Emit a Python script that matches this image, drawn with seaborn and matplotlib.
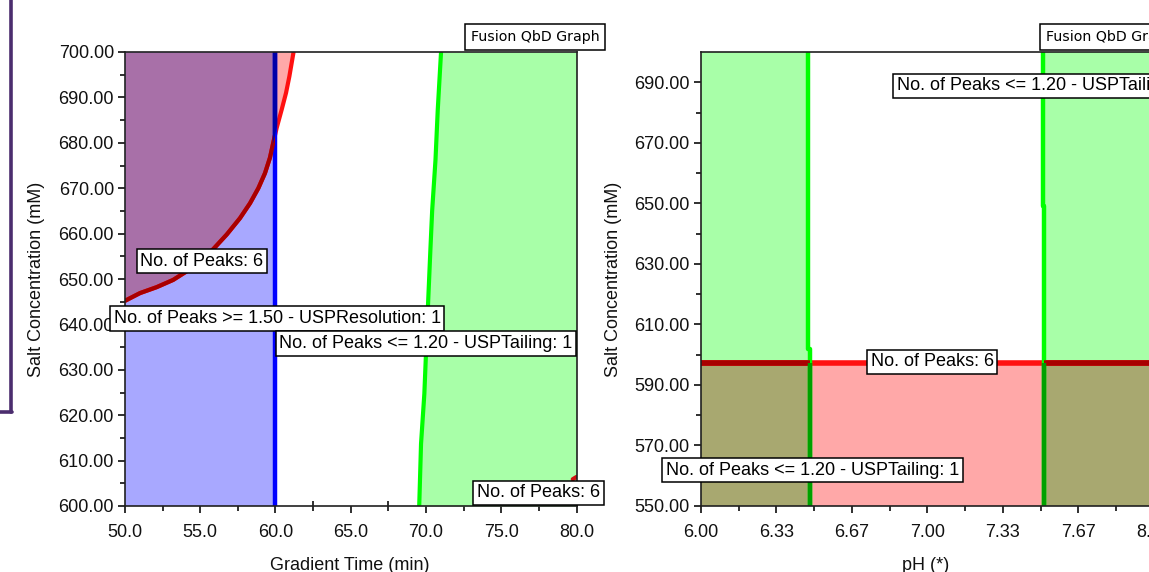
import numpy as np
import matplotlib
matplotlib.use("Agg")
import matplotlib.pyplot as plt
from matplotlib.lines import Line2D
import seaborn as sns
import pandas as pd

# ---------------- data ----------------
# Left panel: Gradient Time (min) vs Salt Concentration (mM)
res_x = np.array([50.0, 51.0, 52.1, 53.2, 54.1, 54.98, 55.87, 56.76, 57.64, 58.31,
                  58.86, 59.30, 59.63, 59.85, 60.08, 60.41, 60.70, 60.92, 61.2])
res_y = np.array([645.2, 646.9, 648.2, 649.8, 651.7, 653.9, 656.6, 659.8, 663.4, 666.7,
                  670.0, 673.3, 676.7, 680.0, 683.3, 687.3, 691.0, 694.6, 700.0])
tail_x_left = 60.0
grn_x = np.array([69.55, 69.67, 69.89, 70.07, 70.29, 70.41, 70.63, 70.78, 71.0])
grn_y = np.array([600.0, 613.7, 624.7, 639.4, 656.3, 665.1, 676.2, 687.2, 700.0])
peak2_x = np.array([79.75, 80.0])
peak2_y = np.array([605.9, 606.4])

# Right panel: pH vs Salt Concentration (mM)
gl_x = np.array([6.482, 6.482, 6.471, 6.471])
gl_y = np.array([550.0, 602.0, 602.0, 700.0])
gr_x = np.array([7.513, 7.513, 7.508, 7.508])
gr_y = np.array([550.0, 649.0, 649.0, 700.0])
peaks_level = 597.4

left_xlim = (50.0, 80.0)
left_ylim = (600.0, 700.0)
right_xlim = (6.0, 8.0)
right_ylim = (550.0, 700.0)

left_xticks = [50.0, 55.0, 60.0, 65.0, 70.0, 75.0, 80.0]
left_yticks = [600, 610, 620, 630, 640, 650, 660, 670, 680, 690, 700]
right_xticks = [6.0, 6 + 1 / 3, 6 + 2 / 3, 7.0, 7 + 1 / 3, 7 + 2 / 3, 8.0]
right_yticks = [550, 570, 590, 610, 630, 650, 670, 690]

# ---------------- style ----------------
sns.set_theme(style="ticks")
plt.rcParams["font.family"] = ["Liberation Sans", "DejaVu Sans"]
FS = 13

BLUE_F = "#a8a8ff"
RED_F = "#ffa8a8"
GREEN_F = "#a8ffa8"
PURPLE_F = "#a870a8"
OLIVE_F = "#a8a870"

fig = plt.figure(figsize=(11.49, 5.72), dpi=100)
axL = fig.add_axes([125 / 1149, 66 / 572, 451.5 / 1149, 454 / 572])
axR = fig.add_axes([700.8 / 1149, 66 / 572, 453.2 / 1149, 454 / 572])


def style_axis(ax):
    for s in ax.spines.values():
        s.set_color("#202020")
        s.set_linewidth(1.2)
        s.set_zorder(10)
    ax.tick_params(which="major", direction="out", length=5, width=1.3,
                   color="#202020", labelsize=FS, pad=3, labelcolor="#111111")
    ax.tick_params(which="minor", direction="inout", length=7, width=1.3, color="#202020")
    ax.tick_params(axis="x", which="major", pad=8)
    ax.grid(False)
    ax.set_facecolor("white")


def clipped_line(ax, x, y, color, lw, clip_coll):
    ln, = ax.plot(x, y, color=color, lw=lw, solid_capstyle="butt", zorder=4)
    ln.set_clip_path(clip_coll.get_paths()[0], ax.transData)
    return ln


def box(ax, x, y, s, fs=FS, pad=0.2, family=None):
    kw = {}
    if family:
        kw["family"] = family
    ax.text(x, y, s, fontsize=fs, ha="left", va="center", zorder=20, clip_on=False,
            color="#000000",
            bbox=dict(boxstyle=f"square,pad={pad}", fc="white", ec="black", lw=1.1), **kw)


# ---------------- left panel ----------------
ax = axL
red_coll = ax.fill_between(res_x, res_y, left_ylim[1], color=RED_F, lw=0, zorder=1)
blue_coll = ax.fill_betweenx(list(left_ylim), left_xlim[0], tail_x_left, color=BLUE_F, lw=0, zorder=1)
m = res_x < tail_x_left
ox = np.append(res_x[m], tail_x_left)
oy = np.append(res_y[m], np.interp(tail_x_left, res_x, res_y))
ax.fill_between(ox, oy, left_ylim[1], color=PURPLE_F, lw=0, zorder=2)
green_coll = ax.fill_betweenx(grn_y, grn_x, left_xlim[1], color=GREEN_F, lw=0, zorder=1)

dfL = pd.DataFrame({"x": res_x, "y": res_y})
sns.lineplot(data=dfL, x="x", y="y", sort=False, color="#ff1010", lw=3.0, ax=ax, zorder=3)
clipped_line(ax, res_x, res_y, "#a80000", 3.0, blue_coll)
ax.plot([tail_x_left, tail_x_left], list(left_ylim), color="#0000ff", lw=3.2, zorder=3)
clipped_line(ax, [tail_x_left, tail_x_left], list(left_ylim), "#0000a8", 3.2, red_coll)
sns.lineplot(x=grn_x, y=grn_y, sort=False, color="#00ff00", lw=3.0, ax=ax, zorder=3)
ax.plot(peak2_x, peak2_y, color="#d01010", lw=3, zorder=3)

ax.set_xlim(*left_xlim)
ax.set_ylim(*left_ylim)
ax.set_xticks(left_xticks)
ax.set_xticklabels([f"{v:.1f}" for v in left_xticks])
ax.set_xticks(np.arange(52.5, 80, 5), minor=True)
ax.set_yticks(left_yticks)
ax.set_yticklabels([f"{v:.2f}" for v in left_yticks])
ax.set_yticks(np.arange(605, 700, 10), minor=True)
style_axis(ax)
ax.set_xlabel("Gradient Time (min)", fontsize=FS, color="#111111")
ax.set_ylabel("Salt Concentration (mM)", fontsize=FS, color="#111111")
ax.xaxis.label.set_va("center")
ax.yaxis.label.set_va("center")
ax.xaxis.set_label_coords(0.497, -0.130)
ax.yaxis.set_label_coords(-0.195, 0.5)

box(ax, 51.02, 653.9, "No. of Peaks: 6")
box(ax, 49.24, 641.3, "No. of Peaks >= 1.50 - USPResolution: 1")
box(ax, 60.25, 635.8, "No. of Peaks <= 1.20 - USPTailing: 1")
box(ax, 73.38, 602.9, "No. of Peaks: 6")
box(ax, 72.97, 703.4, "Fusion QbD Graph", fs=10.2, pad=0.42, family=["DejaVu Sans"])

# ---------------- right panel ----------------
ax = axR
red_coll_r = ax.fill_between(list(right_xlim), right_ylim[0], peaks_level, color=RED_F, lw=0, zorder=1)
gl_coll = ax.fill_betweenx(gl_y, right_xlim[0], gl_x, color=GREEN_F, lw=0, zorder=1)
gr_coll = ax.fill_betweenx(gr_y, gr_x, right_xlim[1], color=GREEN_F, lw=0, zorder=1)
ys = np.linspace(right_ylim[0], peaks_level, 40)
ax.fill_betweenx(ys, right_xlim[0], np.interp(ys, gl_y, gl_x), color=OLIVE_F, lw=0, zorder=2)
ax.fill_betweenx(ys, np.interp(ys, gr_y, gr_x), right_xlim[1], color=OLIVE_F, lw=0, zorder=2)

sns.lineplot(x=list(right_xlim), y=[peaks_level, peaks_level], color="#ff1010", lw=4.0, ax=ax, zorder=3)
for cc in (gl_coll, gr_coll):
    clipped_line(ax, list(right_xlim), [peaks_level, peaks_level], "#a80000", 4.0, cc)
for gx, gy in ((gl_x, gl_y), (gr_x, gr_y)):
    ax.plot(gx, gy, color="#00ff00", lw=3.2, zorder=3)
    clipped_line(ax, gx, gy, "#00a000", 3.2, red_coll_r)

ax.set_xlim(*right_xlim)
ax.set_ylim(*right_ylim)
ax.set_xticks(right_xticks)
ax.set_xticklabels([f"{v:.2f}" for v in right_xticks])
ax.set_xticks(np.arange(6 + 1 / 6, 8, 1 / 3), minor=True)
ax.set_yticks(right_yticks)
ax.set_yticklabels([f"{v:.2f}" for v in right_yticks])
ax.set_yticks(np.arange(560, 700, 20), minor=True)
style_axis(ax)
ax.set_xlabel("pH (*)", fontsize=FS, color="#111111")
ax.set_ylabel("Salt Concentration (mM)", fontsize=FS, color="#111111")
ax.xaxis.label.set_va("center")
ax.yaxis.label.set_va("center")
ax.xaxis.set_label_coords(0.495, -0.130)
ax.yaxis.set_label_coords(-0.1916, 0.5)

box(ax, 6.864, 688.8, "No. of Peaks <= 1.20 - USPTailing: 1")
box(ax, 6.749, 597.7, "No. of Peaks: 6")
box(ax, 5.845, 561.8, "No. of Peaks <= 1.20 - USPTailing: 1")
box(ax, 7.523, 705.05, "Fusion QbD Graph", fs=10.2, pad=0.42, family=["DejaVu Sans"])

# purple bracket at far left (edge of neighbouring frame)
purple = "#4b2d6e"
fig.add_artist(Line2D([10.5 / 1149, 10.5 / 1149], [1.0, (572 - 412) / 572],
                      transform=fig.transFigure, color=purple, lw=2.6))
fig.add_artist(Line2D([0, 12 / 1149], [(572 - 412) / 572, (572 - 412) / 572],
                      transform=fig.transFigure, color=purple, lw=2.6))

fig.savefig("out.png", dpi=100)
